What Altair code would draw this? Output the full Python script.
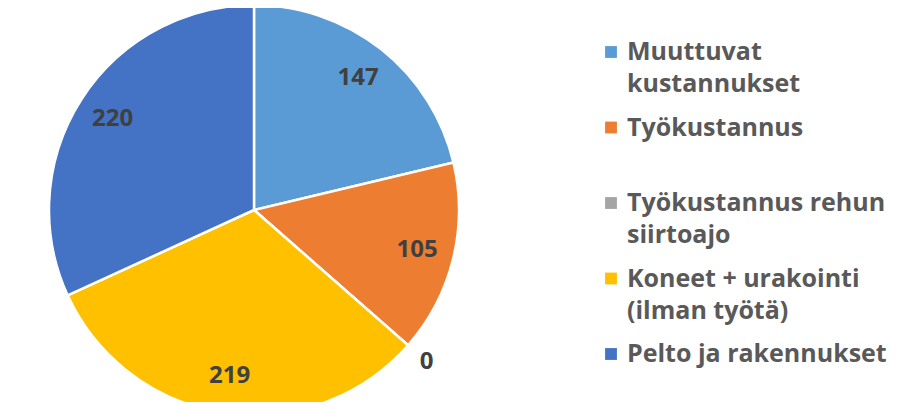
import altair as alt
import pandas as pd

categories = [
    "Muuttuvat kustannukset",
    "Työkustannus",
    "Työkustannus rehun siirtoajo",
    "Koneet + urakointi (ilman työtä)",
    "Pelto ja rakennukset",
]
values = [147, 105, 0, 219, 220]
legend_labels = [
    "Muuttuvat\nkustannukset",
    "Työkustannus",
    "Työkustannus rehun\nsiirtoajo",
    "Koneet + urakointi\n(ilman työtä)",
    "Pelto ja rakennukset",
]
palette = ["#5B9BD5", "#ED7D31", "#A5A5A5", "#FFC000", "#4472C4"]

df = pd.DataFrame({
    "category": categories,
    "value": values,
    "label": legend_labels,
    "idx": list(range(len(categories))),
})

CX, CY, R = 246, 202, 205
FONT = "Open Sans"

color = alt.Color("category:N", scale=alt.Scale(domain=categories, range=palette), legend=None)
order = alt.Order("idx:Q")

pie = alt.Chart(df).mark_arc(radius=R, stroke="white", strokeWidth=2.5).encode(
    theta=alt.Theta("value:Q", stack=True), color=color, order=order,
    x=alt.value(CX), y=alt.value(CY),
)

labels = alt.Chart(df).transform_window(
    cum="sum(value)", sort=[alt.SortField("idx", order="ascending")],
    frame=[None, 0],
).transform_calculate(
    mid="datum.cum - datum.value / 2",
    lr=f"datum.value == 0 ? {R * 1.12} : {R * 0.82}",
).mark_text(font=FONT, fontSize=24, fontWeight="bold", color="#404040").encode(
    theta=alt.Theta("mid:Q", stack=None),
    radius=alt.Radius("lr:Q", scale=None),
    text="value:Q",
    x=alt.value(CX), y=alt.value(CY),
)

ypos = alt.Y("category:N", sort=categories,
             scale=alt.Scale(domain=categories, range=[44, 346], padding=0), axis=None)

legend_sq = alt.Chart(df).mark_point(shape="square", filled=True, size=140, opacity=1).encode(
    x=alt.value(603), y=ypos, color=color,
)
legend_txt = alt.Chart(df).mark_text(
    font=FONT, fontSize=25, fontWeight="bold", color="#595959",
    align="left", baseline="alphabetic", dy=8, lineBreak="\n", lineHeight=32,
).encode(
    x=alt.value(619), y=ypos, text="label:N",
)

chart = alt.layer(pie, labels, legend_sq, legend_txt).properties(
    width=891, height=394, padding=0, autosize=alt.AutoSizeParams(type="none"),
).configure_view(stroke=None)

chart.save("out.html", embed_options={"renderer": "svg", "actions": False})
